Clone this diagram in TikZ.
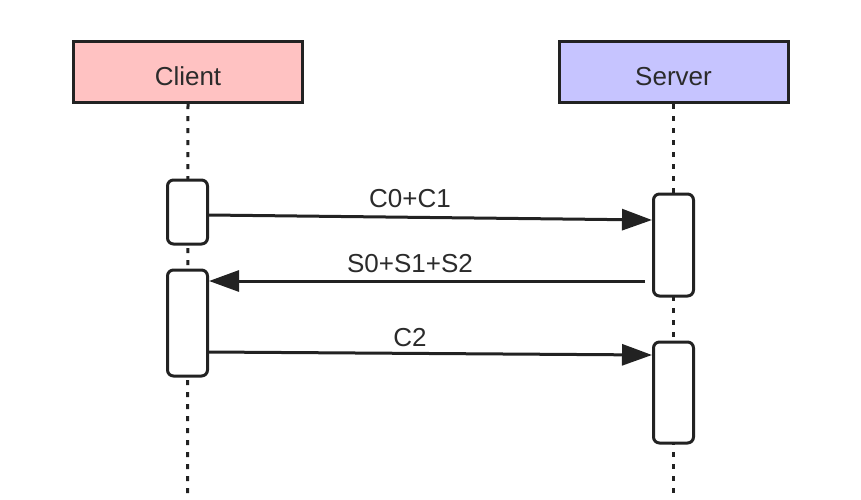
\documentclass[tikz,border=0pt]{standalone}
\usepackage{fontspec}
\setmainfont{Liberation Sans}
\usetikzlibrary{arrows.meta}
\definecolor{clientfill}{HTML}{FFC2C2}
\definecolor{serverfill}{HTML}{C6C4FF}
\definecolor{linec}{HTML}{222222}
\definecolor{textc}{HTML}{2B2B2B}
\begin{document}
\begin{tikzpicture}[x=1pt,y=-1pt,
  actor/.style={draw=linec,line width=3pt,minimum width=229pt,minimum height=61pt,inner sep=0pt,
    text height=26pt,text depth=0pt,
    font=\fontsize{26}{30}\selectfont,text=textc},
  act/.style={draw=linec,line width=3pt,fill=white,rounded corners=6pt,minimum width=40pt,inner sep=0pt},
  life/.style={draw=linec,line width=3pt,dash pattern=on 5pt off 7pt},
  msg/.style={draw=linec,line width=3pt,-{Triangle[length=30pt,width=21pt]}},
  lbl/.style={font=\fontsize{26}{30}\selectfont,text=textc,anchor=base,inner sep=0pt}]
\useasboundingbox (0,0) rectangle (861,499);
% lifeline ends
\coordinate (cb) at (187.5,499);
\coordinate (sb) at (673.5,499);
% actors
\node[actor,fill=clientfill] (client) at (188,72) {Client};
\node[actor,fill=serverfill] (server) at (673.5,72) {Server};
% lifelines
\draw[life] (client.south) -- (cb);
\draw[life] (server.south) -- (sb);
% activations
\node[act,minimum height=64pt] (ca1) at (187.5,212) {};
\node[act,minimum height=106pt] (ca2) at (187.5,323) {};
\node[act,minimum height=102pt] (sa1) at (673.5,245) {};
\node[act,minimum height=101pt] (sa2) at (673.5,392.5) {};
% messages
\draw[msg] ([yshift=-3pt]ca1.east) -- ([yshift=25pt]sa1.west);
\draw[msg] ([xshift=-7pt,yshift=-36pt]sa1.west) -- ([yshift=42pt]ca2.east);
\draw[msg] ([yshift=-29pt]ca2.east) -- ([yshift=37.5pt]sa2.west);
% labels
\node[lbl] (l1) at (410,207) {C0+C1};
\node[lbl] (l2) at (410,272) {S0+S1+S2};
\node[lbl] (l3) at (410,346) {C2};
\end{tikzpicture}
\end{document}
